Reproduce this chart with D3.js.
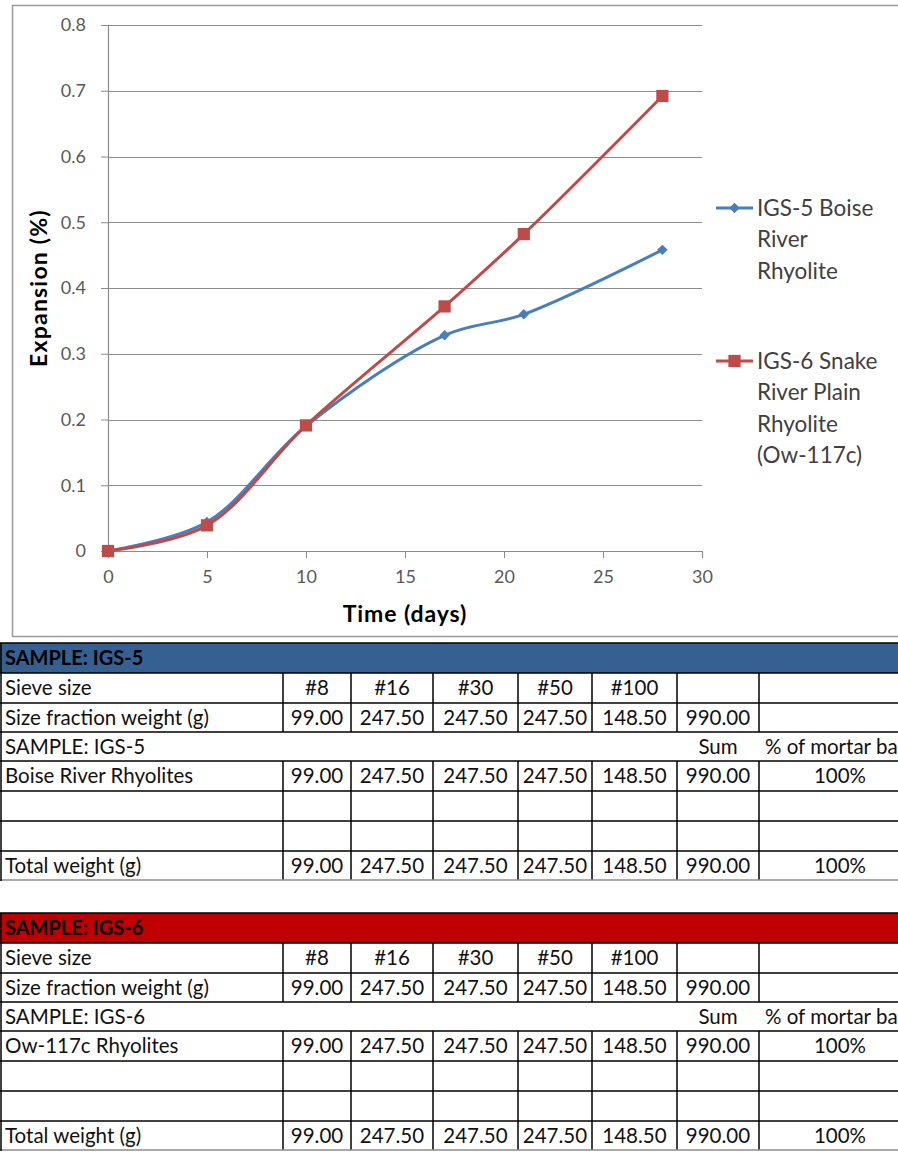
<!DOCTYPE html>
<html>
<head>
<meta charset="utf-8">
<script src="https://cdn.jsdelivr.net/npm/d3@7"></script>
<style>
  html, body { margin: 0; padding: 0; background: #fff; }
  svg { display: block; }
</style>
</head>
<body>
<svg id="page" width="898" height="1175"></svg>
<script>
// Expansion test series
const days = [0, 5, 10, 17, 21, 28];
const igs5Expansion = [0, 0.044, 0.19, 0.328, 0.36, 0.458];
const igs6Expansion = [0, 0.039, 0.191, 0.372, 0.482, 0.692];
const xTicks = [0, 5, 10, 15, 20, 25, 30];
const yTicks = [0, 0.1, 0.2, 0.3, 0.4, 0.5, 0.6, 0.7, 0.8];
const seriesNames = [
  ["IGS-5 Boise", "River", "Rhyolite"],
  ["IGS-6 Snake", "River Plain", "Rhyolite", "(Ow-117c)"]
];

// Gradation tables
const sieveSizes = ["#8", "#16", "#30", "#50", "#100"];
const igs5Weights = [99.00, 247.50, 247.50, 247.50, 148.50];
const igs6Weights = [99.00, 247.50, 247.50, 247.50, 148.50];
const igs5Material = "Boise River Rhyolites";
const igs6Material = "Ow-117c Rhyolites";
const mortarShare = "100%";

const svg = d3.select("#page");
const FONT = "Lato, 'Open Sans', sans-serif";
const BLUE = "#4a7ebb", RED = "#be4b48";

// ---------- chart ----------
svg.append("rect")
  .attr("x", 12.5).attr("y", 5.5).attr("width", 900).attr("height", 631)
  .attr("fill", "#fff").attr("stroke", "#9a9a9a").attr("stroke-width", 1.5);

const x = d3.scaleLinear().domain([0, 30]).range([108, 702]);
const y = d3.scaleLinear().domain([0, 0.8]).range([551, 25]);

const grid = svg.append("g");
grid.selectAll("line").data(yTicks.filter(d => d > 0)).join("line")
  .attr("x1", x(0)).attr("x2", x(30))
  .attr("y1", d => Math.round(y(d)) + 0.5).attr("y2", d => Math.round(y(d)) + 0.5)
  .attr("stroke", "#8c8c8c").attr("stroke-width", 1);

const yAxis = svg.append("g")
  .attr("transform", `translate(${x(0)},0)`)
  .call(d3.axisLeft(y).tickValues(yTicks).tickFormat(d3.format(".1~f")).tickSize(7).tickPadding(15));
const xAxis = svg.append("g")
  .attr("transform", `translate(0,${y(0)})`)
  .call(d3.axisBottom(x).tickValues(xTicks).tickSize(7).tickPadding(12));
[yAxis, xAxis].forEach(a => {
  a.select(".domain").attr("stroke", "#8c8c8c").attr("stroke-width", 1.2);
  a.selectAll(".tick line").attr("stroke", "#8c8c8c");
  a.selectAll(".tick text").attr("fill", "#595959")
    .attr("font-family", FONT).attr("font-size", 18);
});

svg.append("text")
  .attr("transform", `translate(47,${(y(0) + y(0.8)) / 2}) rotate(-90)`)
  .attr("text-anchor", "middle")
  .attr("font-family", FONT).attr("font-weight", "bold").attr("font-size", 23)
  .attr("letter-spacing", 1.2)
  .text("Expansion (%)");
svg.append("text")
  .attr("x", (x(0) + x(30)) / 2).attr("y", 622)
  .attr("text-anchor", "middle")
  .attr("font-family", FONT).attr("font-weight", "bold").attr("font-size", 23)
  .attr("letter-spacing", 0.9)
  .text("Time (days)");

const line = d3.line()
  .x(d => x(d[0])).y(d => y(d[1]))
  .curve(d3.curveCatmullRom.alpha(0.5));

const series = [
  { values: igs5Expansion, color: BLUE, symbol: d3.symbolDiamond2, size: 70 },
  { values: igs6Expansion, color: RED, symbol: d3.symbolSquare, size: 150 }
];

series.forEach(s => {
  const pts = days.map((d, i) => [d, s.values[i]]);
  svg.append("path").datum(pts)
    .attr("d", line).attr("fill", "none")
    .attr("stroke", s.color).attr("stroke-width", 3)
    .attr("stroke-linejoin", "round");
  svg.append("g").selectAll("path").data(pts).join("path")
    .attr("transform", d => `translate(${x(d[0])},${y(d[1])})`)
    .attr("d", d3.symbol(s.symbol, s.size))
    .attr("fill", s.color);
});

// legend
const legendTops = [208, 361];
series.forEach((s, i) => {
  const g = svg.append("g").attr("transform", `translate(716,${legendTops[i]})`);
  g.append("line").attr("x1", 0).attr("x2", 37).attr("y1", 0).attr("y2", 0)
    .attr("stroke", s.color).attr("stroke-width", 3);
  g.append("path").attr("transform", "translate(18.5,0)")
    .attr("d", d3.symbol(s.symbol, s.size)).attr("fill", s.color);
  g.selectAll("text").data(seriesNames[i]).join("text")
    .attr("x", 41).attr("y", (d, j) => j * 31.5).attr("dy", "0.35em")
    .attr("font-family", FONT).attr("font-size", 22.5).attr("fill", "#404040")
    .text(d => d);
});

// ---------- tables ----------
const colX = [0, 283, 351, 433, 518, 592, 677, 759, 921];
const fmt = d3.format(".2f");

function drawTable(top, title, headColor, weights, material) {
  const rowH = [30, 30, 29, 29, 30, 30, 30, 29];
  const rowY = [top];
  rowH.forEach(h => rowY.push(rowY[rowY.length - 1] + h));
  const g = svg.append("g");
  const total = d3.sum(weights);

  // title bar
  g.append("rect").attr("x", 0).attr("y", rowY[0]).attr("width", 900).attr("height", rowH[0])
    .attr("fill", headColor);
  g.append("text").attr("x", 5).attr("y", rowY[0] + rowH[0] / 2).attr("dy", "0.36em")
    .attr("font-family", FONT).attr("font-weight", "bold").attr("font-size", 20)
    .attr("fill", "#000").text(title);

  // gridded rows: sieve, fraction, material, blank, blank, total
  const gridded = [1, 2, 4, 5, 6, 7];
  gridded.forEach(r => {
    colX.slice(1, -1).forEach(cx => {
      g.append("line").attr("x1", cx).attr("x2", cx)
        .attr("y1", rowY[r]).attr("y2", rowY[r + 1])
        .attr("stroke", "#000").attr("stroke-width", 1.5);
    });
  });
  // horizontal rules
  [0, 1, 2, 3, 4, 5, 6, 7, 8].forEach(r => {
    g.append("line").attr("x1", 0).attr("x2", 900)
      .attr("y1", rowY[r]).attr("y2", rowY[r])
      .attr("stroke", r === 8 ? "#8c8c8c" : "#000").attr("stroke-width", 1.5);
  });
  g.append("line").attr("x1", 1).attr("x2", 1).attr("y1", rowY[0]).attr("y2", rowY[8] + 1)
    .attr("stroke", "#000").attr("stroke-width", 1.5);

  const txt = (r, xx, anchor, s) => g.append("text")
    .attr("x", xx).attr("y", rowY[r] + rowH[r] / 2).attr("dy", "0.36em")
    .attr("text-anchor", anchor).attr("font-family", FONT).attr("font-size", 20.5)
    .attr("fill", "#111").text(s);
  const mid = i => (colX[i] + colX[i + 1]) / 2;

  txt(1, 5, "start", "Sieve size");
  sieveSizes.forEach((s, i) => txt(1, mid(i + 1), "middle", s));
  txt(2, 5, "start", "Size fraction weight (g)");
  weights.forEach((w, i) => txt(2, mid(i + 1), "middle", fmt(w)));
  txt(2, mid(6), "middle", fmt(total));
  txt(3, 5, "start", title);
  txt(3, mid(6), "middle", "Sum");
  txt(3, 765, "start", "% of mortar bar");
  txt(4, 5, "start", material);
  weights.forEach((w, i) => txt(4, mid(i + 1), "middle", fmt(w)));
  txt(4, mid(6), "middle", fmt(total));
  txt(4, 840, "middle", mortarShare);
  txt(7, 5, "start", "Total weight (g)");
  weights.forEach((w, i) => txt(7, mid(i + 1), "middle", fmt(w)));
  txt(7, mid(6), "middle", fmt(total));
  txt(7, 840, "middle", mortarShare);
}

drawTable(643, "SAMPLE: IGS-5", "#366092", igs5Weights, igs5Material);
drawTable(913, "SAMPLE: IGS-6", "#c00000", igs6Weights, igs6Material);
</script>
</body>
</html>
